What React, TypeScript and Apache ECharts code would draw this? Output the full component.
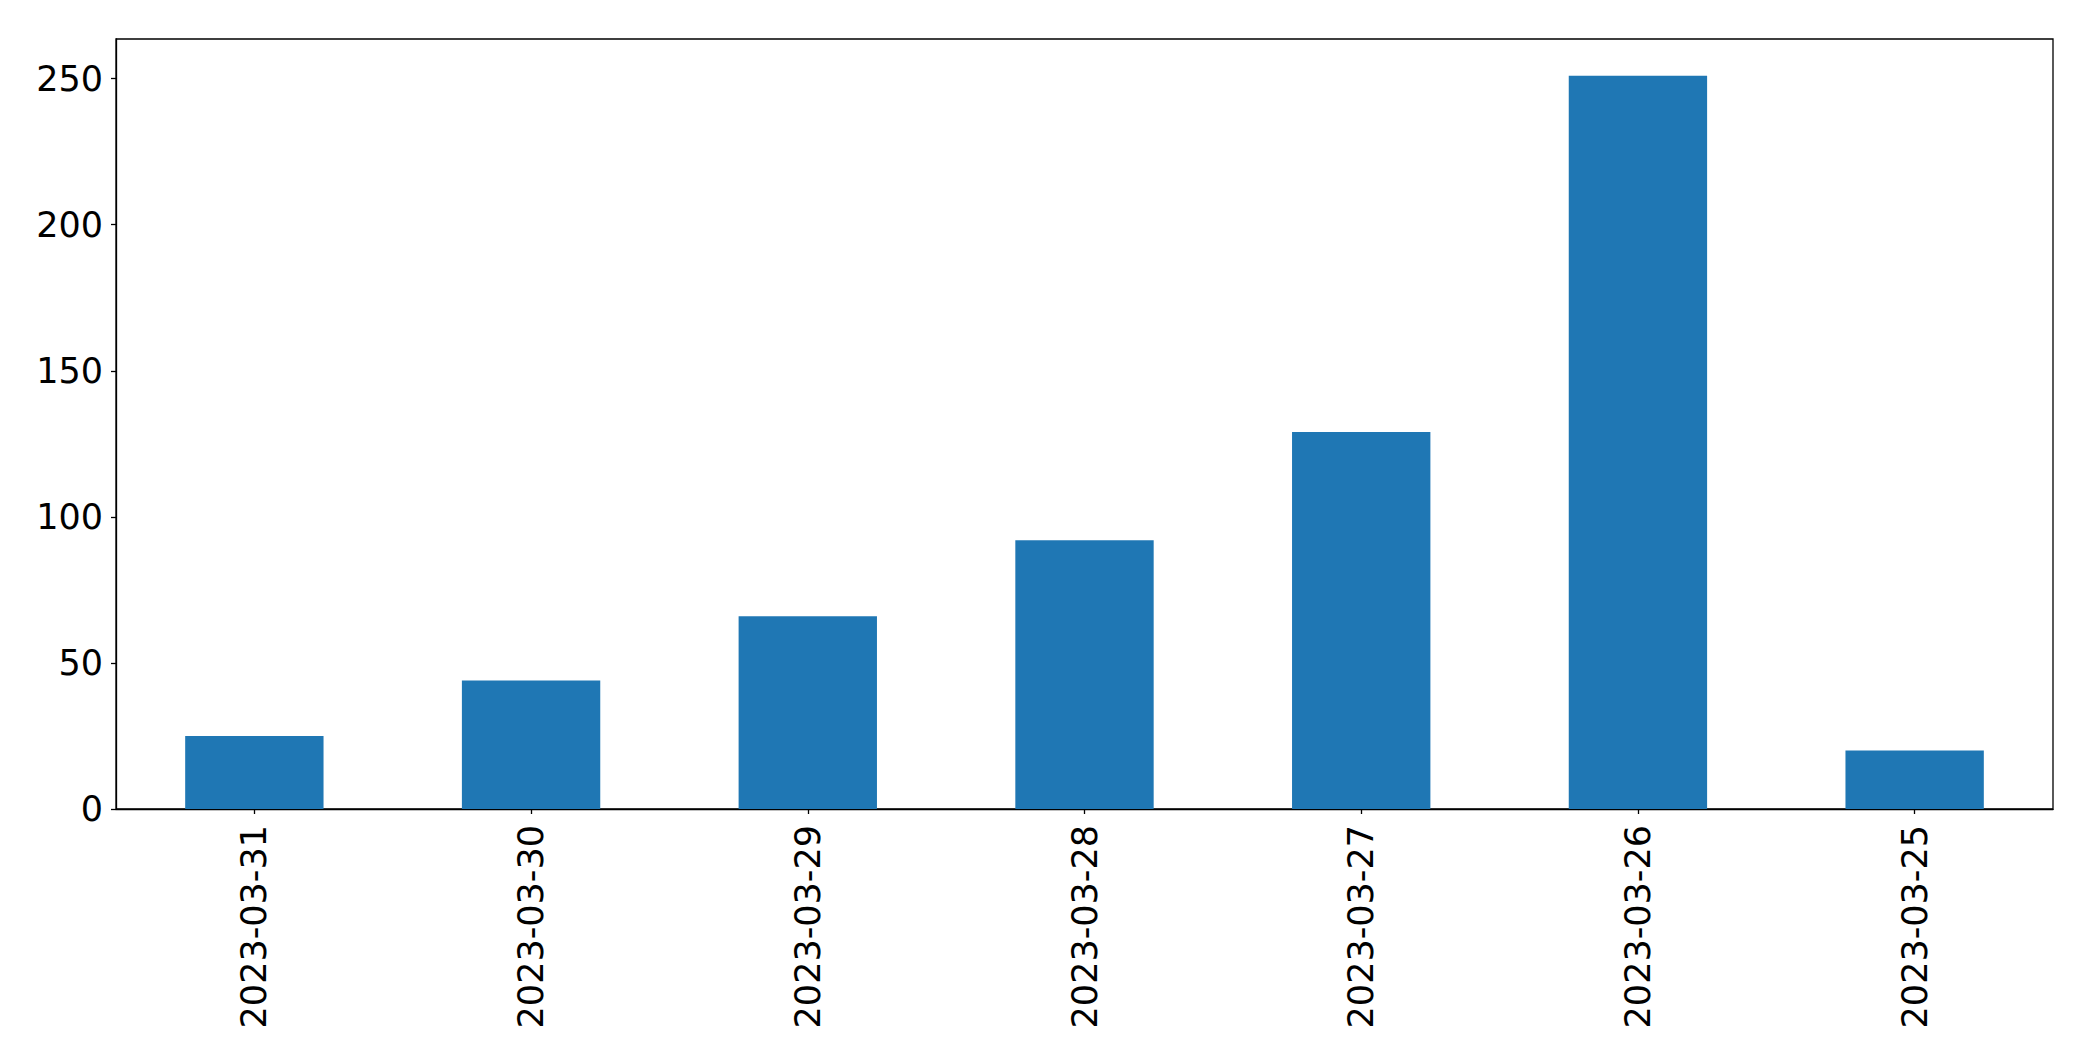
import React, { useEffect, useRef } from "react";
import * as echarts from "echarts";

const categories = ["2023-03-31", "2023-03-30", "2023-03-29", "2023-03-28", "2023-03-27", "2023-03-26", "2023-03-25"];
const counts = [25, 44, 66, 92, 129, 251, 20];
const yTicks = [0, 50, 100, 150, 200, 250];
const yMax = 263.55;

export default function App() {
  const ref = useRef<HTMLDivElement>(null);
  useEffect(() => {
    if (!ref.current) return;
    const chart = echarts.init(ref.current, null, { renderer: "svg" });
    const font = { fontFamily: "DejaVu Sans", fontSize: 35, color: "#000" };
    chart.setOption({
      animation: false,
      backgroundColor: "#fff",
      grid: { left: 116, right: 40, top: 39, bottom: 252, show: true, borderColor: "#000", borderWidth: 1.3 },
      xAxis: {
        type: "category",
        data: categories,
        axisLine: { show: true, lineStyle: { color: "#000", width: 1.3 } },
        axisTick: { show: true, alignWithLabel: true, length: 5, lineStyle: { color: "#000", width: 1.3 } },
        axisLabel: { ...font, rotate: 90, margin: 16, interval: 0 },
        splitLine: { show: false },
      },
      yAxis: {
        type: "value",
        min: 0,
        max: yMax,
        interval: 50,
        axisLine: { show: true, lineStyle: { color: "#000", width: 1.3 } },
        axisTick: { show: true, length: 5, lineStyle: { color: "#000", width: 1.3 }, customValues: yTicks },
        axisLabel: { ...font, margin: 13, customValues: yTicks },
        splitLine: { show: false },
      },
      series: [
        {
          type: "bar",
          data: counts,
          barWidth: "50%",
          itemStyle: { color: "#1f77b4" },
        },
      ],
    });
    return () => chart.dispose();
  }, []);
  return <div ref={ref} style={{ position: "fixed", left: 0, top: 0, width: 2093, height: 1061 }} />;
}
